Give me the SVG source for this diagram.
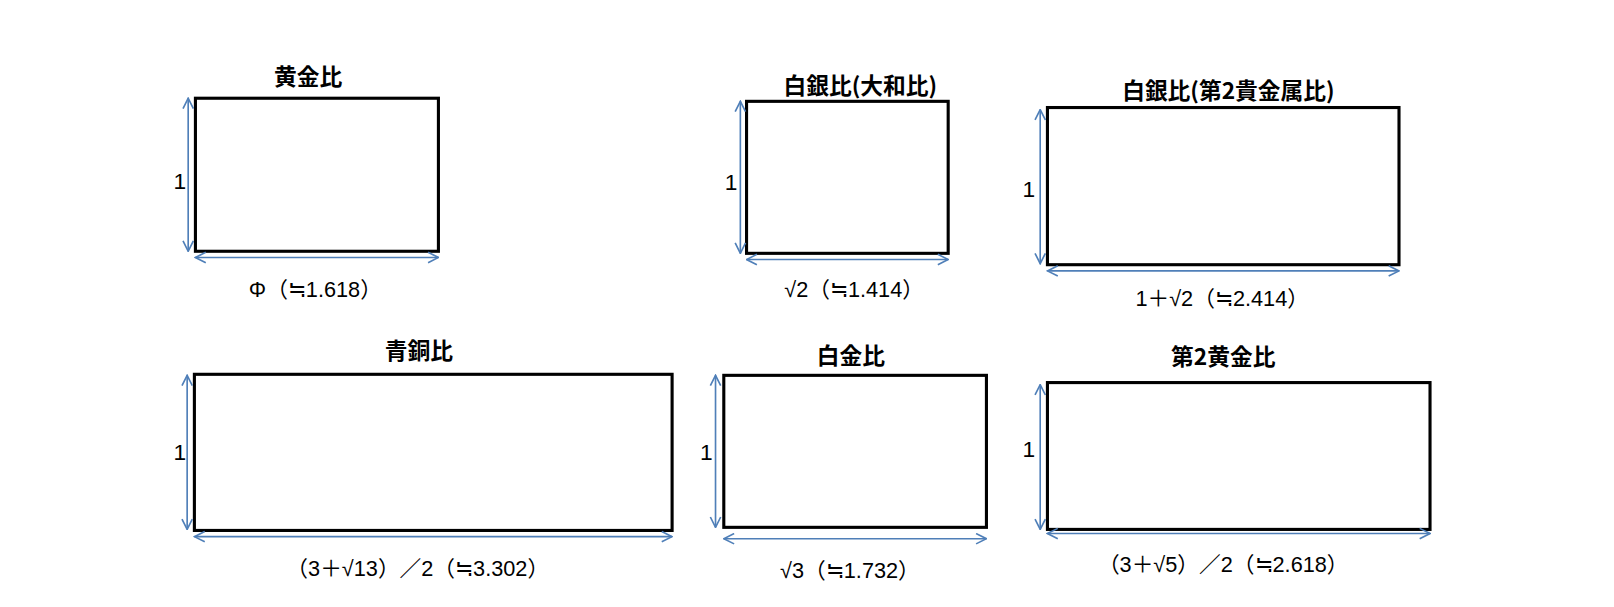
<svg xmlns="http://www.w3.org/2000/svg" width="1614" height="607" viewBox="0 0 1614 607">
<style>
.box{fill:#fff;stroke:#000;stroke-width:3}
.dim{stroke:#4f7fb8;stroke-width:1.6;fill:none;marker-start:url(#a);marker-end:url(#a)}
.t{font-family:"Noto Sans CJK JP","Liberation Sans",sans-serif;font-weight:bold;font-size:22px;text-anchor:middle}
.l{font-family:"Liberation Sans","Noto Sans CJK JP",sans-serif;font-size:21px;text-anchor:middle}
.o{font-family:"Liberation Sans",sans-serif;font-size:22px;text-anchor:middle}
</style>
<defs><marker id="a" viewBox="0 0 12 12" refX="11" refY="6" markerWidth="12" markerHeight="12" markerUnits="userSpaceOnUse" orient="auto-start-reverse"><path d="M1,1 L11,6 L1,11" fill="none" stroke="#4f7fb8" stroke-width="1.6"/></marker></defs>
<rect width="1614" height="607" fill="#fff"/>
<g transform="scale(1.034)">
<g id="n1"><rect class="box" x="189" y="95" width="235" height="148"/><text class="t" x="298" y="82">黄金比</text><text class="o" x="174" y="183">1</text><text class="l" x="305" y="287">Φ（≒1.618）</text></g>
<g id="n2"><rect class="box" x="722" y="98" width="195" height="147"/><text class="t" x="832" y="91">白銀比(大和比)</text><text class="o" x="707" y="184">1</text><text class="l" x="826" y="287">√2（≒1.414）</text></g>
<g id="n3"><rect class="box" x="1013" y="104" width="340" height="152"/><text class="t" x="1188" y="96">白銀比(第2貴金属比)</text><text class="o" x="995" y="191">1</text><text class="l" x="1182" y="296">1＋√2（≒2.414）</text></g>
<g id="n4"><rect class="box" x="188" y="362" width="462" height="151"/><text class="t" x="405" y="347">青銅比</text><text class="o" x="174" y="445">1</text><text class="l" x="404" y="557">（3＋√13）／2（≒3.302）</text></g>
<g id="n5"><rect class="box" x="700" y="363" width="254" height="147"/><text class="t" x="823" y="352">白金比</text><text class="o" x="683" y="445">1</text><text class="l" x="822" y="559">√3（≒1.732）</text></g>
<g id="n6"><rect class="box" x="1013" y="370" width="370" height="142"/><text class="t" x="1183" y="353">第2黄金比</text><text class="o" x="995" y="442">1</text><text class="l" x="1183" y="553">（3＋√5）／2（≒2.618）</text></g>
<g id="connectors">
<path class="dim" d="M182,95 V243"/><path class="dim" d="M189,249 H424"/>
<path class="dim" d="M716,98 V245"/><path class="dim" d="M722,251 H917"/>
<path class="dim" d="M1006,106 V255"/><path class="dim" d="M1013,262 H1353"/>
<path class="dim" d="M181,363 V512"/><path class="dim" d="M188,519 H650"/>
<path class="dim" d="M692,363 V510"/><path class="dim" d="M700,521 H954"/>
<path class="dim" d="M1006,372 V512"/><path class="dim" d="M1013,516 H1383"/>
</g>
</g>
</svg>
